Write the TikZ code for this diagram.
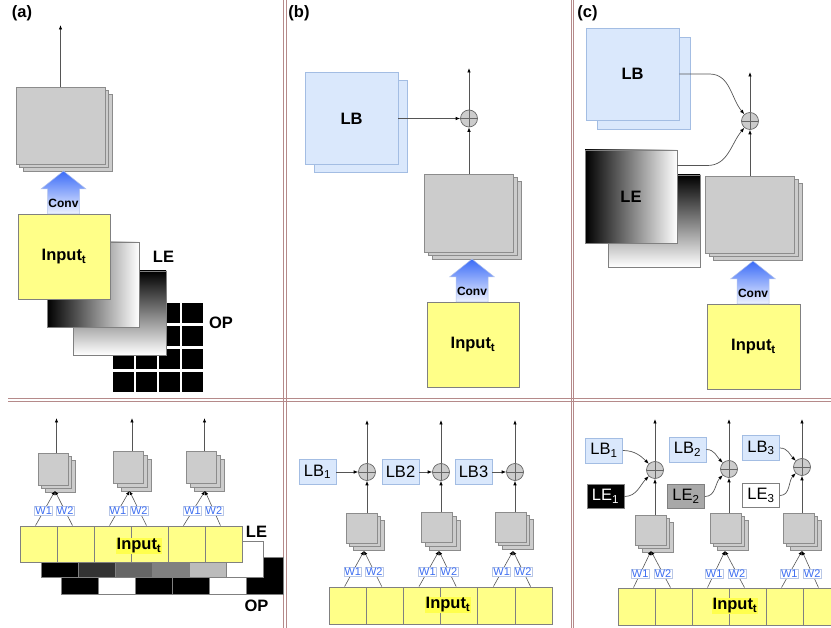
\documentclass[tikz,border=0pt]{standalone}
\usepackage{fontspec}
\setmainfont{Liberation Sans}
\usepackage{tikz}
\usetikzlibrary{arrows.meta,shadows}
\definecolor{rulerose}{HTML}{B58A8A}
\definecolor{stackgrey}{HTML}{CCCCCC}
\definecolor{stackedge}{HTML}{8C8C8C}
\definecolor{lbfill}{HTML}{DAE8FC}
\definecolor{lbedge}{HTML}{A3BDE3}
\definecolor{inputyellow}{HTML}{FFFF88}
\definecolor{inputmark}{HTML}{FFFF4D}
\definecolor{boxedge}{HTML}{808080}
\definecolor{convblue}{HTML}{3A6BF7}
\definecolor{convpale}{HTML}{EEF2FF}
\definecolor{convedge}{HTML}{B3C3EA}
\definecolor{wblue}{HTML}{3D6EF2}
\definecolor{wedge}{HTML}{B9C7E6}
\definecolor{arrowgrey}{HTML}{555555}
\definecolor{addergrey}{HTML}{CCCCCC}
\definecolor{adderedge}{HTML}{666666}
\definecolor{legreyA}{HTML}{333333}
\definecolor{legreyB}{HTML}{666666}
\definecolor{legreyC}{HTML}{808080}
\definecolor{legreyD}{HTML}{BBBBBB}
\definecolor{legreyE}{HTML}{A8A8A8}

\begin{document}
\begin{tikzpicture}[x=1pt,y=-1pt,
  bigtxt/.style={font=\fontsize{16.5}{18}\selectfont\bfseries},
  smalltxt/.style={font=\fontsize{16.5}{17}\selectfont},
  flow/.style={draw=arrowgrey,line width=0.7pt,-{Latex[length=4.5pt,width=3.5pt,color=black]}},
  wline/.style={draw=arrowgrey,line width=0.6pt,-{Latex[length=4pt,width=3.5pt,color=black]}},
  wlab/.style={draw=wedge,fill=white,text=wblue,font=\fontsize{11}{12}\selectfont,inner sep=0.7pt,pos=0.42},
  stack/.style={draw=stackedge,fill=stackgrey,inner sep=0,line width=0.7pt,double copy shadow={shadow xshift=3.7pt,shadow yshift=-3.7pt}},
  lbbox/.style={draw=lbedge,fill=lbfill,inner sep=0,line width=0.8pt,bigtxt},
  lbsmall/.style={draw=lbedge,fill=lbfill,inner sep=0,line width=0.8pt,minimum width=37,minimum height=25,smalltxt},
  lesmall/.style={draw=boxedge,inner sep=0,line width=0.8pt,minimum width=37,minimum height=24,smalltxt},
  lelayer/.style={draw=boxedge,inner sep=0,line width=0.8pt},
  inbox/.style={draw=boxedge,fill=inputyellow,inner sep=0,line width=0.8pt,bigtxt},
  inmark/.style={fill=inputmark,inner sep=0.5pt,bigtxt},
  cell/.style={draw=boxedge,line width=0.8pt,minimum width=37,minimum height=36,inner sep=0},
  adder/.style={circle,draw=adderedge,fill=addergrey,minimum size=17,inner sep=0,line width=0.7pt,
    path picture={\draw[adderedge,line width=0.7pt] (path picture bounding box.north) -- (path picture bounding box.south)
      (path picture bounding box.west) -- (path picture bounding box.east);}},
  rule/.style={draw=rulerose,line width=0.8pt},
  convarrow/.pic={
    \shade[top color=convblue,bottom color=convpale,draw=convedge,line width=0.5pt]
      (-16,0) -- (-16,-25) -- (-22.5,-25) -- (0,-43) -- (22.5,-25) -- (16,-25) -- (16,0) -- cycle;
    \node[font=\fontsize{12}{13}\selectfont\bfseries] (-lbl) at (0,-10.5) {Conv};
  }]
\useasboundingbox (0,0) rectangle (831,628);
\clip (0,0) rectangle (831,628);

\draw[rule] (283.5,0) -- (283.5,628) (286,0) -- (286,628);
\draw[rule] (571,0) -- (571,628) (573.5,0) -- (573.5,628);
\draw[rule] (8,398.5) -- (831,398.5) (8,401.5) -- (831,401.5);

% (a) top
\node[bigtxt] (taga) at (22,13) {(a)};
\node[stack,minimum width=89,minimum height=77] (gsa) at (60.5,125.5) {};
\coordinate (outa) at (60.5,25);
\draw[flow] (gsa.north) -- (outa);
\foreach \r in {0,...,3}
  \foreach \c in {0,...,3}
    \fill (113+23*\c,303+23*\r) rectangle ++(20.5,20.5);
\node[lelayer,top color=black,bottom color=white,minimum width=93,minimum height=84] (leva) at (119.5,313) {};
\node[lelayer,left color=black,right color=white,minimum width=92,minimum height=85] (leha) at (93,284.5) {};
\node[inbox,minimum width=92,minimum height=85] (ina) at (64,256.5) {Input\textsubscript{t}};
\pic (cva) at (63.5,214) {convarrow};
\node[bigtxt] (lelaba) at (163.5,257) {LE};
\node[bigtxt] (oplaba) at (221,323) {OP};

% (b) top
\node[bigtxt] (tagb) at (299,13) {(b)};
\node[lbbox,copy shadow={shadow xshift=9pt,shadow yshift=-8pt},minimum width=93,minimum height=92] (lbb) at (351.5,118.5) {LB};
\node[adder] (addb) at (469,118.5) {};
\coordinate (outb) at (469,68);
\node[stack,minimum width=89,minimum height=78] (gsb) at (469,213) {};
\node[inbox,minimum width=92,minimum height=85] (inb) at (473,344.5) {Input\textsubscript{t}};
\pic (cvb) at (472,302) {convarrow};
\draw[flow] (lbb) -- (addb);
\draw[flow] (gsb) -- (addb);
\draw[flow] (addb) -- (outb);

% (c) top
\node[bigtxt] (tagc) at (587.5,13) {(c)};
\node[lbbox,copy shadow={shadow xshift=11pt,shadow yshift=-9pt},minimum width=93,minimum height=92] (lbc) at (632.5,74) {LB};
\node[lelayer,top color=black,bottom color=white,minimum width=92,minimum height=92] (levc) at (654,221) {};
\node[lelayer,left color=black,right color=white,minimum width=92,minimum height=93,bigtxt] (lehc) at (631,196.5) {LE};
\node[adder] (addc) at (750,121) {};
\coordinate (outc) at (750,72);
\node[stack,minimum width=89,minimum height=77] (gsc) at (750,214.5) {};
\node[inbox,minimum width=93,minimum height=85] (inc) at (753.5,346.5) {Input\textsubscript{t}};
\pic (cvc) at (753,304) {convarrow};
\draw[flow] (lbc.east) -- ++(30,0) to[out=0,in=130] (addc.130);
\draw[flow] ([yshift=31pt]lehc.east) -- ++(30,0) to[out=0,in=230] (addc.230);
\draw[flow] (gsc) -- (addc);
\draw[flow] (addc) -- (outc);

% (a) bottom
\foreach \c [count=\i] in {black,white,black,black,white,black}
  \node[cell,fill=\c,minimum height=37] (opa\i) at ({61+37*\i-18.5},575.5) {};
\foreach \c [count=\i] in {black,legreyA,legreyB,legreyC,legreyD,white}
  \node[cell,fill=\c] (lea\i) at ({41+37*\i-18.5},559) {};
\foreach \i in {1,...,6}
  \node[cell,fill=inputyellow] (ca\i) at ({20+37*\i-18.5},544) {};
\node[inmark] (inlaba) at (139,546) {Input\textsubscript{t}};
\node[bigtxt] (lelabb) at (256.5,532) {LE};
\node[bigtxt] (oplabb) at (256.5,606) {OP};
\node[stack,minimum width=30,minimum height=32] (sa1) at (53,469) {};
\node[stack,minimum width=30,minimum height=32] (sa2) at (128.5,467.5) {};
\node[stack,minimum width=30,minimum height=32] (sa3) at (201.5,467.5) {};
\coordinate (ja1) at (55,491);
\coordinate (ja2) at (129.5,491);
\coordinate (ja3) at (205,491);
\coordinate (oa1) at (56.5,418);
\coordinate (oa2) at (132,418);
\coordinate (oa3) at (204.5,418);
\foreach \k [evaluate=\k as \p using int(2*\k-1), evaluate=\k as \q using int(2*\k)] in {1,2,3} {
  \draw[wline] ([xshift=-3pt]ca\p.north) -- node[wlab] (wa\p) {W1} (ja\k);
  \draw[wline] ([xshift=-3pt]ca\q.north) -- node[wlab] (wa\q) {W2} (ja\k);
  \draw[flow] (sa\k.north -| oa\k) -- (oa\k);
}

% (b) bottom
\foreach \i in {1,...,6}
  \node[cell,fill=inputyellow,minimum width=37.2,minimum height=37] (cb\i) at ({329+37.2*\i-18.6},605.5) {};
\node[inmark] (inlabb) at (448,605) {Input\textsubscript{t}};
\node[lbsmall] (lbb1) at (317.5,472) {LB\textsubscript{1}};
\node[lbsmall] (lbb2) at (400.5,472) {LB2};
\node[lbsmall] (lbb3) at (473.5,472) {LB3};
\node[adder] (ab1) at (367,472) {};
\node[adder] (ab2) at (441,472) {};
\node[adder] (ab3) at (515,472) {};
\node[stack,minimum width=31,minimum height=30] (sb1) at (361.5,528) {};
\node[stack,minimum width=31,minimum height=30] (sb2) at (437,527.5) {};
\node[stack,minimum width=31,minimum height=30] (sb3) at (510.5,527) {};
\coordinate (jb1) at (364,551);
\coordinate (jb2) at (439,551);
\coordinate (jb3) at (513,551);
\coordinate (ob1) at (367,420);
\coordinate (ob2) at (441,420);
\coordinate (ob3) at (515,420);
\foreach \k [evaluate=\k as \p using int(2*\k-1), evaluate=\k as \q using int(2*\k)] in {1,2,3} {
  \draw[wline] ([xshift=-3pt]cb\p.north) -- node[wlab] (wb\p) {W1} (jb\k);
  \draw[wline] ([xshift=-3pt]cb\q.north) -- node[wlab] (wb\q) {W2} (jb\k);
  \draw[flow] (sb\k.north -| ab\k) -- (ab\k);
  \draw[flow] (lbb\k) -- (ab\k);
  \draw[flow] (ab\k) -- (ob\k);
}

% (c) bottom
\foreach \i in {1,...,6}
  \node[cell,fill=inputyellow,minimum height=37] (cc\i) at ({618+37*\i-18.5},606.5) {};
\node[inmark] (inlabc) at (735,606) {Input\textsubscript{t}};
\node[lbsmall] (lbc1) at (604,450.5) {LB\textsubscript{1}};
\node[lbsmall] (lbc2) at (687.5,449.5) {LB\textsubscript{2}};
\node[lbsmall] (lbc3) at (761,448) {LB\textsubscript{3}};
\node[lesmall,fill=black,text=white] (lec1) at (605.5,496.5) {LE\textsubscript{1}};
\node[lesmall,fill=legreyE] (lec2) at (686,496.5) {LE\textsubscript{2}};
\node[lesmall,fill=white] (lec3) at (761,495.5) {LE\textsubscript{3}};
\node[adder] (ac1) at (655,470) {};
\node[adder] (ac2) at (729,469) {};
\node[adder] (ac3) at (802,467) {};
\node[stack,minimum width=31,minimum height=30] (sc1) at (650.5,530) {};
\node[stack,minimum width=31,minimum height=30] (sc2) at (725.5,528) {};
\node[stack,minimum width=31,minimum height=30] (sc3) at (798.5,528) {};
\coordinate (jc1) at (651,551);
\coordinate (jc2) at (725,551);
\coordinate (jc3) at (802,551);
\coordinate (oc1) at (655,419);
\coordinate (oc2) at (729,419);
\coordinate (oc3) at (802,419);
\foreach \k [evaluate=\k as \p using int(2*\k-1), evaluate=\k as \q using int(2*\k)] in {1,2,3} {
  \draw[wline] ([xshift=-3pt]cc\p.north) -- node[wlab,pos=0.38] (wc\p) {W1} (jc\k);
  \draw[wline] ([xshift=-3pt]cc\q.north) -- node[wlab,pos=0.38] (wc\q) {W2} (jc\k);
  \draw[flow] (sc\k.north -| ac\k) -- (ac\k);
  \draw[flow] (lbc\k.east) to[out=0,in=135] (ac\k.135);
  \draw[flow] (lec\k.east) to[out=0,in=225] (ac\k.225);
  \draw[flow] (ac\k) -- (oc\k);
}
\end{tikzpicture}
\end{document}
